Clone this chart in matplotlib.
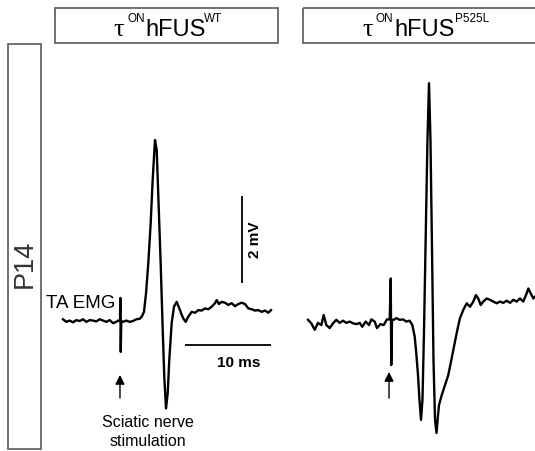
import matplotlib
matplotlib.use("Agg")
import matplotlib.pyplot as plt

# ---------------- data (time in ms relative to stimulus, voltage in mV) -------------
wt_time = [-6.69, -6.30, -5.91, -5.52, -5.14, -4.74, -4.36, -3.98, -3.58, -3.20,
           -2.81, -2.42, -2.03, -1.65, -1.26, -0.87, -0.49, -0.29, -0.06, -0.02,
           0.03, 0.09, 0.29, 0.67, 1.07, 1.45, 1.84, 2.23, 2.47, 2.73,
           2.97, 3.23, 3.51, 3.74, 4.01, 4.21, 4.40, 4.67, 4.91, 5.09,
           5.29, 5.49, 5.67, 5.95, 6.22, 6.53, 6.84, 7.12, 7.30, 7.58,
           7.88, 8.28, 8.66, 9.05, 9.44, 9.83, 10.21, 10.60, 10.99, 11.19,
           11.45, 11.77, 12.15, 12.53, 12.93, 13.31, 13.70, 14.09, 14.48, 14.86,
           15.26, 15.64, 16.02, 16.42, 16.80, 17.19, 17.50]
wt_mv = [0.04, -0.02, 0.01, -0.03, 0.02, 0.00, 0.04, -0.02, 0.02, 0.01,
         -0.01, 0.04, 0.01, -0.02, 0.02, -0.05, -0.02, 0.01, 0.00, 0.53,
         -0.71, 0.00, -0.02, 0.01, -0.02, 0.00, 0.04, 0.05, 0.10, 0.21,
         0.64, 1.33, 2.25, 3.24, 4.16, 3.93, 2.86, 1.33, -0.21, -1.28,
         -2.01, -1.66, -0.90, -0.05, 0.33, 0.44, 0.29, 0.14, 0.06, -0.02,
         0.10, 0.21, 0.19, 0.25, 0.24, 0.29, 0.27, 0.33, 0.41, 0.48,
         0.39, 0.44, 0.42, 0.37, 0.41, 0.34, 0.39, 0.42, 0.39, 0.29,
         0.27, 0.24, 0.25, 0.21, 0.24, 0.19, 0.25]

mut_time = [-9.65, -9.27, -8.87, -8.49, -8.10, -7.83, -7.52, -7.13, -6.74, -6.36,
            -5.97, -5.58, -5.20, -4.80, -4.42, -4.03, -3.64, -3.34, -2.94, -2.56,
            -2.29, -1.90, -1.63, -1.24, -0.85, -0.47, -0.15, -0.03, 0.03, 0.12,
            0.31, 0.62, 1.01, 1.40, 1.78, 2.17, 2.48, 2.76, 2.94, 3.14,
            3.31, 3.49, 3.66, 3.84, 4.07, 4.24, 4.42, 4.59, 4.77, 4.94,
            5.12, 5.29, 5.47, 5.58, 5.90, 6.28, 6.66, 7.06, 7.44, 7.76,
            8.02, 8.41, 8.80, 9.19, 9.57, 9.88, 10.15, 10.43, 10.73, 11.13,
            11.51, 11.90, 12.29, 12.67, 13.06, 13.45, 13.84, 14.22, 14.62, 15.00,
            15.38, 15.70, 15.97, 16.24, 16.55, 16.74]
mut_mv = [0.05, -0.03, -0.18, -0.02, -0.07, 0.16, -0.07, -0.14, -0.03, 0.05,
          -0.02, 0.03, -0.02, 0.01, -0.03, -0.05, -0.02, -0.11, 0.01, -0.07,
          0.06, 0.01, -0.14, -0.05, -0.07, 0.06, 0.06, 1.00, -0.99, 0.05,
          0.05, 0.09, 0.05, 0.06, 0.01, 0.03, -0.07, -0.34, -0.72, -1.22,
          -1.79, -2.25, -1.79, -0.18, 2.34, 4.18, 5.49, 4.18, 1.66, -0.87,
          -2.25, -2.55, -2.14, -1.91, -1.68, -1.45, -1.22, -0.83, -0.45, -0.14,
          0.09, 0.28, 0.43, 0.35, 0.47, 0.62, 0.54, 0.39, 0.47, 0.54,
          0.51, 0.47, 0.43, 0.47, 0.44, 0.49, 0.44, 0.51, 0.47, 0.54,
          0.47, 0.62, 0.77, 0.66, 0.54, 0.58]

panel_titles = [("τ", "ON", "hFUS", "WT"), ("τ", "ON", "hFUS", "P525L")]
row_label = "P14"
trace_label = "TA EMG"
stim_label = "Sciatic nerve\nstimulation"
scale_ms = 10
scale_mv = 2

# ---------------- layout ----------------
W, H = 535, 451
fig = plt.figure(figsize=(W / 100, H / 100), dpi=100)
fig.patch.set_facecolor("white")

SANS = ["Liberation Sans", "DejaVu Sans"]
PX_MS = 8.6      # pixels per ms
PX_MV = 43.5     # pixels per mV

# overlay in pixel coordinates (for boxes and labels)
ov = fig.add_axes([0, 0, 1, 1])
ov.set_xlim(0, W)
ov.set_ylim(H, 0)
ov.axis("off")


def trace_axes(x0_px, y0_px):
    ax = fig.add_axes([0, 0, 1, 1])
    ax.patch.set_alpha(0)
    ax.set_xlim(-x0_px / PX_MS, (W - x0_px) / PX_MS)
    ax.set_ylim((y0_px - H) / PX_MV, y0_px / PX_MV)
    ax.axis("off")
    return ax


ax1 = trace_axes(120.5, 321)
ax2 = trace_axes(391, 322)

ax1.plot(wt_time, wt_mv, color="black", lw=1.7, solid_joinstyle="round")
ax2.plot(mut_time, mut_mv, color="black", lw=1.7, solid_joinstyle="round")

# stimulus arrows
arrow_kw = dict(arrowstyle="-|>,head_length=0.55,head_width=0.28", color="black", lw=1.0,
                shrinkA=0, shrinkB=0)
ax1.annotate("", xy=(-0.06, -1.24), xytext=(-0.06, -1.77), arrowprops=arrow_kw)
ax2.annotate("", xy=(-0.23, -1.15), xytext=(-0.23, -1.75), arrowprops=arrow_kw)

# scale bars (on the WT axes)
ax1.plot([14.13, 14.13], [0.87, 0.87 + scale_mv], color="black", lw=1.3, solid_capstyle="butt")
ax1.plot([7.5, 7.5 + scale_ms], [-0.55, -0.55], color="black", lw=1.3, solid_capstyle="butt")
ov.text(255, 240, f"{scale_mv} mV", rotation=90, ha="center", va="center",
        fontsize=11, fontweight="bold", family=SANS)
ov.text(239, 367, f"{scale_ms} ms", ha="center", va="baseline",
        fontsize=11, fontweight="bold", family=SANS)

# labels
ov.text(46, 308, trace_label, ha="left", va="baseline", fontsize=13.5, family=SANS)
ov.text(148, 446, stim_label, ha="center", va="baseline", fontsize=11.5, family=SANS,
        linespacing=1.3)

# title boxes
box_kw = dict(fill=False, edgecolor="#666666", lw=1.3)
ov.add_patch(plt.Rectangle((55, 8), 223, 35, **box_kw))
ov.add_patch(plt.Rectangle((303, 8), 254, 35, **box_kw))

# row label box
ov.add_patch(plt.Rectangle((7.5, 43.5), 33.5, 405.5, **box_kw))
ov.text(25, 264, row_label, rotation=90, ha="center", va="center", fontsize=19.5,
        color="#333333", family=SANS)

# titles (tau + superscript, main, superscript)
title_pos = [(113, 127, 145, 204), (362, 375, 394, 455)]
for (tau, sup1, main, sup2), (x_tau, x_s1, x_main, x_s2) in zip(panel_titles, title_pos):
    ov.text(x_tau, 36, tau, ha="left", va="baseline", fontsize=19,
            family=["Liberation Serif", "DejaVu Serif"])
    ov.text(x_s1, 22.5, sup1, ha="left", va="baseline", fontsize=8.5, family=SANS)
    ov.text(x_main, 36, main, ha="left", va="baseline", fontsize=17, family=SANS)
    ov.text(x_s2, 22.5, sup2, ha="left", va="baseline", fontsize=8.5, family=SANS)

fig.savefig("out.png", dpi=100, facecolor="white")
